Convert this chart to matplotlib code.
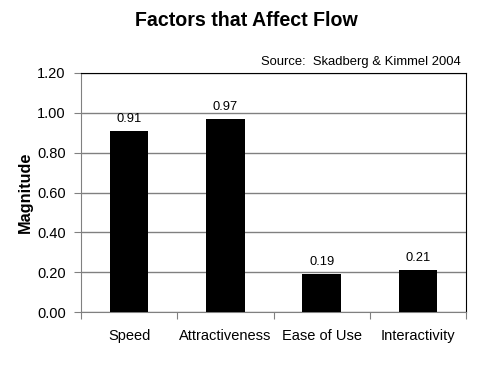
import matplotlib.pyplot as plt
import numpy as np

categories = ["Speed", "Attractiveness", "Ease of Use", "Interactivity"]
values = [0.91, 0.97, 0.19, 0.21]
labels = ["0.91", "0.97", "0.19", "0.21"]
yticks = [0.0, 0.2, 0.4, 0.6, 0.8, 1.0, 1.2]

plt.rcParams['font.family'] = ['Liberation Sans', 'DejaVu Sans']

fig = plt.figure(figsize=(4.92, 3.72), dpi=100)
ax = fig.add_axes([81 / 492, 60 / 372, 385 / 492, 239 / 372])

x = np.arange(len(categories))
ax.bar(x, values, width=0.4, color='black', zorder=3)
for xi, v, lab in zip(x, values, labels):
    ax.text(xi, v + 0.03, lab, ha='center', va='bottom', fontsize=9.3)

ax.set_xlim(-0.5, len(categories) - 0.5)
ax.set_ylim(0, 1.2)
ax.set_yticks(yticks)
ax.set_yticklabels([f"{t:.2f}" for t in yticks], fontsize=10.5)
ax.yaxis.grid(True, color='#808080', linewidth=1, zorder=0)

# category ticks sit between bars, labels centred under bars
ax.set_xticks(np.arange(len(categories) + 1) - 0.5)
ax.set_xticklabels([])
ax.set_xticks(x, minor=True)
ax.set_xticklabels(categories, minor=True, fontsize=10.5)
ax.tick_params(axis='x', which='major', length=5, color='#808080', direction='out')
ax.tick_params(axis='x', which='minor', length=0, pad=12)
ax.tick_params(axis='y', length=5, color='#808080', direction='out', pad=6)

for side in ['top', 'right']:
    ax.spines[side].set_color('black')
for side in ['left', 'bottom']:
    ax.spines[side].set_color('#808080')

ax.set_ylabel("Magnitude", fontsize=11.7, fontweight='bold', labelpad=3)
fig.text(0.5, 0.946, "Factors that Affect Flow", ha='center', va='center',
         fontsize=14.1, fontweight='bold')
fig.text(461 / 492, 1 - 62 / 372, "Source:  Skadberg & Kimmel 2004", ha='right',
         va='center', fontsize=9.4)

fig.savefig("out.png", dpi=100)
